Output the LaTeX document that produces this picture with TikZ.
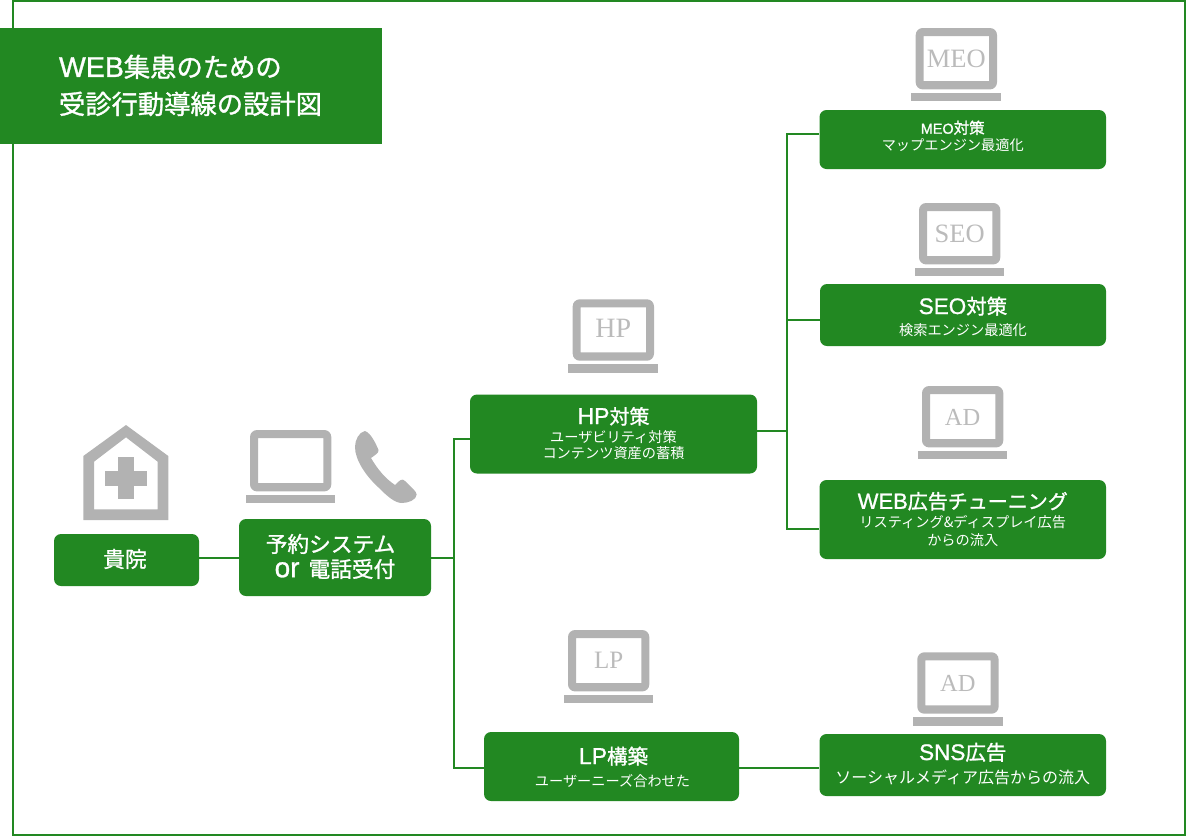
\documentclass[tikz,border=0pt]{standalone}
\usepackage{fontspec}
\setmainfont{Noto Sans CJK JP}
\newfontfamily\headfont{Noto Sans CJK JP}[FakeBold=1.2]
\newfontfamily\headlatin{Liberation Sans}[FakeBold=1.0]
\newfontfamily\iconfont{Liberation Serif}
\definecolor{brandgreen}{HTML}{228822}
\definecolor{icongray}{HTML}{B2B2B2}
\definecolor{icontext}{HTML}{BBBBBB}
% Latin part of a heading: size, text
\newcommand{\lat}[2]{{\headlatin\fontsize{#1}{#1}\selectfont #2}}
% One centred line of a card: baseline offset from the card centre, size, text
\newcommand{\headline}[3]{\makebox[0pt][c]{\raisebox{#1pt}[0pt][0pt]{\headfont\fontsize{#2}{#2}\selectfont #3}}}
\newcommand{\subline}[3][14.2]{\makebox[0pt][c]{\raisebox{#2pt}[0pt][0pt]{\fontsize{#1}{#1}\selectfont #3}}}
% One line of the banner, set flush left
\newcommand{\bannerline}[2]{\makebox[0pt][l]{\hspace*{-132pt}\raisebox{#1pt}[0pt][0pt]{\headfont\fontsize{26.3}{26.3}\selectfont #2}}}
\tikzset{
  card/.style={fill=brandgreen,rounded corners=7pt,inner sep=0pt,text=white,draw=none},
  link/.style={draw=brandgreen,line width=2pt},
  laptopicon/.pic={
    \fill[icongray,even odd rule]
      [rounded corners=7pt] (0,0) rectangle (81.3,61.4)
      [sharp corners] (8,8) rectangle (73.3,53);
    \fill[icongray] (-4.5,65) rectangle (85.2,73.4);
    \node[anchor=base,text=icontext,inner sep=0pt,font=\iconfont] at (40.6,38) {#1};
  }
}
% Icon caption: baseline drop, size, text
\newcommand{\iconlabel}[3]{\raisebox{-#1pt}{\fontsize{#2}{#2}\selectfont #3}}
\begin{document}
\begin{tikzpicture}[x=1pt,y=-1pt]
\useasboundingbox (0,0) rectangle (1186,836);

% Outer frame
\draw[brandgreen,line width=2pt] (13,1) rectangle (1185,835);

% Banner
\node[fill=brandgreen,inner sep=0pt,minimum width=382pt,minimum height=116pt,text=white] (banner) at (191,86)
  {\bannerline{9.1}{\lat{28.5}{WEB}集患のための}\bannerline{-27.9}{受診行動導線の設計図}};

% Cards
\node[card,minimum width=145pt,minimum height=52pt] (clinic) at (126.5,560)
  {\headline{-7.2}{21.7}{\hspace*{-3pt}貴院}};
\node[card,minimum width=192pt,minimum height=77pt] (booking) at (335,557.5)
  {\headline{5.3}{21.7}{\hspace*{-9pt}予約システム}\headline{-19.7}{21.7}{\lat{28}{or}\hspace{9pt}電話受付}};
\node[card,minimum width=287pt,minimum height=79pt] (hp) at (613.5,434)
  {\headline{10}{20}{\lat{23}{HP}対策}\subline{-8}{ユーザビリティ対策}\subline{-24.6}{コンテンツ資産の蓄積}};
\node[card,minimum width=255pt,minimum height=69pt] (lp) at (611.5,766.5)
  {\headline{2.5}{20.5}{\hspace*{4pt}\lat{23}{LP}構築}\subline{-19.8}{\hspace*{2pt}ユーザーニーズ合わせた}};
\node[card,minimum width=286.5pt,minimum height=59pt] (meo) at (962.75,139.5)
  {\headline{5.8}{15.5}{\hspace*{-20pt}\lat{14.4}{MEO}対策}\subline{-10.8}{\hspace*{-20pt}マップエンジン最適化}};
\node[card,minimum width=286pt,minimum height=62pt] (seo) at (963,315)
  {\headline{1}{20.5}{\lat{22.5}{SEO}対策}\subline{-20.6}{検索エンジン最適化}};
\node[card,minimum width=286.5pt,minimum height=79pt] (web) at (962.75,519.5)
  {\headline{10.7}{20}{\lat{22}{WEB}広告チューニング}\subline{-8.2}{リスティング\&ディスプレイ広告}\subline{-26.2}{からの流入}};
\node[card,minimum width=286.5pt,minimum height=62pt] (sns) at (962.75,765)
  {\headline{5}{20.5}{\lat{22.5}{SNS}広告}\subline[16]{-18}{ソーシャルメディア広告からの流入}};

% Branch points of the connector tree
\coordinate (trunkA) at (454,557.5);
\coordinate (trunkB) at (786.5,431);

% Connectors
\draw[link] (clinic.east |- trunkA) -- (booking.west |- trunkA);
\draw[link] (booking.east |- trunkA) -- (trunkA);
\draw[link] ([yshift=-5pt]hp.west) -| (trunkA);
\draw[link] (trunkA) |- ([yshift=-1.5pt]lp.west);
\draw[link] ([yshift=-1.5pt]lp.east) -- ([yshift=-3pt]sns.west);
\draw[link] ([yshift=3pt]hp.east) -- (trunkB);
\draw[link] (trunkB) |- ([yshift=5.5pt]meo.west);
\draw[link] (trunkB) |- ([yshift=-5pt]seo.west);
\draw[link] (trunkB) |- ([yshift=-9.5pt]web.west);

% Laptop icons
\pic at (250,430) {laptopicon={}};
\pic at (572.7,299.3) {laptopicon={\iconlabel{0}{28}{HP}}};
\pic at (915.7,28) {laptopicon={\iconlabel{1}{26.5}{MEO}}};
\pic at (919,203) {laptopicon={\iconlabel{1.5}{26.5}{SEO}}};
\pic at (922,386) {laptopicon={\iconlabel{1}{24.5}{AD}}};
\pic at (568,630) {laptopicon={\iconlabel{0}{25}{LP}}};
\pic at (917.3,652.3) {laptopicon={\iconlabel{1.5}{24.5}{AD}}};

% Clinic house with a cross
\fill[icongray,even odd rule]
  (126,425) -- (168.3,456) -- (168.3,520) -- (83.3,520) -- (83.3,456) -- cycle
  (126,437.3) -- (157.7,461.7) -- (157.7,509.3) -- (94,509.3) -- (94,461.7) -- cycle;
\fill[icongray] (118,456.7) rectangle (134,499.3);
\fill[icongray] (105,470.7) rectangle (147.3,485.7);

% Telephone handset
\fill[icongray]
  (365,431) .. controls (359,432) and (355,440) .. (355,447)
  .. controls (355,460) and (366,476) .. (378,487)
  .. controls (388,497) and (395,503) .. (402,503)
  .. controls (408,503) and (416.5,500) .. (416.7,494.5)
  .. controls (417,492) and (410,486) .. (405,481)
  .. controls (402,478) and (400,480) .. (395,485)
  .. controls (386,479) and (378,470) .. (371,458)
  .. controls (375,455) and (379,453) .. (378.5,450)
  .. controls (376,444) and (371,433) .. (365,431) -- cycle;
\end{tikzpicture}
\end{document}
